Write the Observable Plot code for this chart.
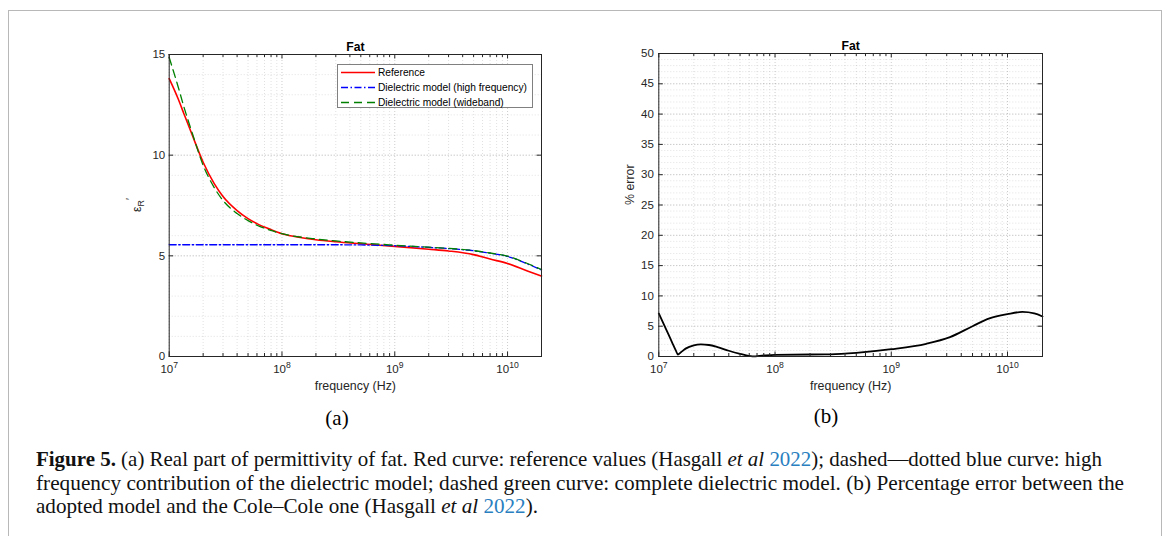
<!DOCTYPE html>
<html>
<head>
<meta charset="utf-8">
<script src="https://cdn.jsdelivr.net/npm/d3@7"></script>
<script src="https://cdn.jsdelivr.net/npm/@observablehq/plot@0.6"></script>
<style>
  html, body { margin: 0; padding: 0; background: #fff; }
  body { width: 1168px; height: 536px; overflow: hidden; position: relative; font-family: "Liberation Sans", Arial, sans-serif; }
  #frame { position: absolute; left: 8px; top: 10px; width: 1154px; height: 600px; border: 1.5px solid #b8b8b8; box-sizing: border-box; }
  .chart { position: absolute; top: 30px; }
  #chartA { left: 100px; }
  #chartB { left: 600px; }
  .legend { position: absolute; left: 336.5px; top: 64px; width: 196px; height: 44px; border: 1px solid #808080; background: #fff; box-sizing: border-box; font-size: 10.2px; color: #000; }
  .legend .row { position: absolute; left: 0; height: 15px; line-height: 15px; white-space: nowrap; }
  .legend svg { position: absolute; left: 3px; top: 0; }
  .legend span { position: absolute; left: 40.5px; top: 0; }
  .sub { position: absolute; font-family: "Liberation Serif", serif; font-size: 21px; transform: translate(-50%, -50%); }
  #caption { position: absolute; left: 36px; top: 448px; font-family: "Liberation Serif", serif; font-size: 21px; line-height: 23.5px; white-space: nowrap; color: #111; }
  #caption .ln { display: block; transform-origin: 0 50%; width: max-content; }
  #caption .cite { color: #2a7fc0; }
</style>
</head>
<body>
<div id="frame"></div>
<div id="chartA" class="chart"></div>
<div id="chartB" class="chart"></div>
<div class="legend">
  <div class="row" style="top:0px"><svg width="36" height="15"><line x1="0" x2="34" y1="7.5" y2="7.5" stroke="#ff0000" stroke-width="1.3"/></svg><span>Reference</span></div>
  <div class="row" style="top:15px"><svg width="36" height="15"><line x1="0" x2="34" y1="7.5" y2="7.5" stroke="#0000ff" stroke-width="1.3" stroke-dasharray="7,2.5,1.5,2.5"/></svg><span>Dielectric model (high frequency)</span></div>
  <div class="row" style="top:29.5px"><svg width="36" height="15"><line x1="0" x2="34" y1="7.5" y2="7.5" stroke="#008000" stroke-width="1.3" stroke-dasharray="8,5"/></svg><span>Dielectric model (wideband)</span></div>
</div>
<div class="sub" style="left:337px; top:418px">(a)</div>
<div class="sub" style="left:826px; top:416px">(b)</div>
<div id="caption">
  <span class="ln" data-w="1066"><b>Figure 5.</b> (a) Real part of permittivity of fat. Red curve: reference values (Hasgall <i>et al</i> <span class="cite">2022</span>); dashed—dotted blue curve: high</span>
  <span class="ln" data-w="1088">frequency contribution of the dielectric model; dashed green curve: complete dielectric model. (b) Percentage error between the</span>
  <span class="ln" data-w="502">adopted model and the Cole–Cole one (Hasgall <i>et al</i> <span class="cite">2022</span>).</span>
</div>
<script>
// ---- data ----
const freq = [1e7, 1.2e7, 1.35e7, 1.6e7, 2e7, 2.5e7, 3e7, 4e7, 5e7, 6e7, 8e7, 1e8, 1.5e8, 2e8, 3e8, 5e8, 1e9, 2e9, 3e9, 5e9, 7e9, 1e10, 1.5e10, 2e10];
const refEps = [13.8, 12.8, 12.06, 11.0, 9.65, 8.6, 7.95, 7.25, 6.85, 6.6, 6.3, 6.1, 5.9, 5.8, 5.7, 5.6, 5.47, 5.33, 5.24, 5.06, 4.84, 4.62, 4.25, 4.0];
const hfEps = [5.55, 5.55, 5.55, 5.55, 5.55, 5.55, 5.55, 5.55, 5.55, 5.55, 5.55, 5.55, 5.55, 5.55, 5.55, 5.54, 5.5, 5.42, 5.36, 5.25, 5.13, 4.97, 4.6, 4.3];
const wbEps = [14.85, 13.4, 12.4, 11.1, 9.5, 8.4, 7.75, 7.1, 6.75, 6.52, 6.26, 6.1, 5.92, 5.84, 5.74, 5.64, 5.53, 5.43, 5.37, 5.26, 5.14, 4.98, 4.62, 4.32];

const errFreq = [1e7, 1.1e7, 1.2e7, 1.3e7, 1.4e7, 1.46e7, 1.55e7, 1.7e7, 2e7, 2.3e7, 2.7e7, 3.2e7, 4e7, 5e7, 6.4e7, 8e7, 1e8, 2e8, 3e8, 5e8, 1e9, 2e9, 3.2e9, 5e9, 7e9, 1e10, 1.34e10, 1.7e10, 2e10];
const errPct = [7.1, 5.4, 3.8, 2.35, 1.0, 0.33, 0.7, 1.3, 1.85, 2.0, 1.9, 1.55, 0.95, 0.45, 0.03, 0.18, 0.28, 0.33, 0.36, 0.6, 1.2, 2.1, 3.2, 5.0, 6.3, 7.0, 7.35, 7.1, 6.6];

const xMajor = [1e7, 1e8, 1e9, 1e10];
const xMinor = [];
for (const d of [1e7, 1e8, 1e9, 1e10]) for (let m = 2; m <= 9; m++) if (d * m <= 2e10) xMinor.push(d * m);

const yMajorA = [0, 5, 10, 15];
const yMinorA = d3.range(0, 16);
const yMajorB = d3.range(0, 51, 5);
const yMinorB = d3.range(0, 51);

const tickColor = "#262626";

function makeChart({yDomain, yMajor, yMinor, marginLeft, marginRight, marginTop, yTickPad, lines, ylabel}) {
  const W = 480, H = 370, mb = 370 - (356 - 30);
  const pw = W - marginLeft - marginRight, ph = H - marginTop - mb;
  const grid = {stroke: "#000", strokeDasharray: "1,2"};
  const marks = [
    Plot.gridX(xMinor, {...grid, strokeOpacity: 0.12}),
    Plot.gridY(yMinor, {...grid, strokeOpacity: 0.12}),
    Plot.gridX(xMajor, {...grid, strokeOpacity: 0.2}),
    Plot.gridY(yMajor, {...grid, strokeOpacity: 0.2}),
    ...lines,
    Plot.frame({stroke: tickColor, strokeWidth: 1}),
    Plot.tickX(xMajor, {x: d => d, insetTop: ph - 4.5, stroke: tickColor}),
    Plot.tickX(xMajor, {x: d => d, insetBottom: ph - 4.5, stroke: tickColor}),
    Plot.tickX(xMinor, {x: d => d, insetTop: ph - 3, stroke: tickColor}),
    Plot.tickX(xMinor, {x: d => d, insetBottom: ph - 3, stroke: tickColor}),
    Plot.tickY(yMajor, {y: d => d, insetRight: pw - 4.5, stroke: tickColor}),
    Plot.tickY(yMajor, {y: d => d, insetLeft: pw - 4.5, stroke: tickColor}),
    Plot.axisX(xMajor, {tickSize: 0, tickPadding: 8, label: null, fill: tickColor,
      tickFormat: d => "10^" + Math.round(Math.log10(d))}),
    Plot.axisY(yMajor, {tickSize: 0, tickPadding: yTickPad, label: null, fill: tickColor}),
    Plot.text(["Fat"], {frameAnchor: "top", dy: -12, fontWeight: "bold", fontSize: 12.2, fill: "#000"}),
    Plot.text(["frequency (Hz)"], {frameAnchor: "bottom", dy: 33, fontSize: 12.4, fill: tickColor})
  ];
  if (ylabel) marks.push(Plot.text([ylabel], {frameAnchor: "left", rotate: -90, dx: -29, fontSize: 12.4, fill: tickColor}));
  const svg = Plot.plot({
    width: W, height: H, marginLeft, marginRight, marginTop, marginBottom: mb,
    x: {type: "log", domain: [1e7, 2e10]},
    y: {domain: yDomain},
    style: {fontFamily: "'Liberation Sans', Arial, sans-serif", fontSize: "11.5px", background: "transparent", overflow: "visible", color: tickColor},
    marks
  });
  d3.select(svg).selectAll('g[aria-label="x-axis tick label"], g[aria-label="y-axis tick label"]').attr("font-size", 11.5);
  d3.select(svg).selectAll('g[aria-label="x-axis tick label"] text').each(function () {
    const [b, e] = this.textContent.split("^");
    this.textContent = "";
    d3.select(this).append("tspan").text(b);
    d3.select(this).append("tspan").attr("dy", "-0.5em").attr("font-size", "0.75em").text(e);
  });
  return svg;
}

const tblA = (vals) => freq.map((f, i) => ({f, v: vals[i]}));
const svgA = makeChart({
  yDomain: [0, 15], yMajor: yMajorA, yMinor: yMinorA,
  marginLeft: 68.7, marginRight: 39, marginTop: 24, yTickPad: 4,
  lines: [
    Plot.line(tblA(refEps), {x: "f", y: "v", stroke: "#ff0000", strokeWidth: 1.6, curve: "monotone-x"}),
    Plot.line(tblA(hfEps), {x: "f", y: "v", stroke: "#0000ff", strokeWidth: 1.3, strokeDasharray: "7,2.5,1.5,2.5", curve: "monotone-x"}),
    Plot.line(tblA(wbEps), {x: "f", y: "v", stroke: "#008000", strokeWidth: 1.3, strokeDasharray: "8,5", curve: "monotone-x"})
  ]
});
// epsilon_R' label
const lab = d3.select(svgA).append("text")
  .attr("transform", "translate(40.5,175) rotate(-90)")
  .attr("text-anchor", "middle")
  .attr("fill", tickColor)
  .attr("font-family", "'Liberation Sans', Arial, sans-serif")
  .attr("font-size", 12.4);
lab.append("tspan").text("ε");
lab.append("tspan").attr("font-size", 9).attr("dy", "0.35em").text("R");
lab.append("tspan").attr("font-size", 10).attr("dy", "-0.95em").text("′");
document.getElementById("chartA").appendChild(svgA);

const svgB = makeChart({
  yDomain: [0, 50], yMajor: yMajorB, yMinor: yMinorB,
  marginLeft: 58.3, marginRight: 38, marginTop: 23, yTickPad: 5,
  ylabel: "% error",
  lines: [
    Plot.line(errFreq.map((f, i) => ({f, v: errPct[i]})), {x: "f", y: "v", stroke: "#000", strokeWidth: 1.8, curve: "monotone-x"})
  ]
});
document.getElementById("chartB").appendChild(svgB);

// fit caption lines to the widths measured on the reference
document.querySelectorAll("#caption .ln").forEach(el => {
  const target = +el.dataset.w;
  const w = el.getBoundingClientRect().width;
  if (w > 0) el.style.transform = `scaleX(${target / w})`;
});
</script>
</body>
</html>
